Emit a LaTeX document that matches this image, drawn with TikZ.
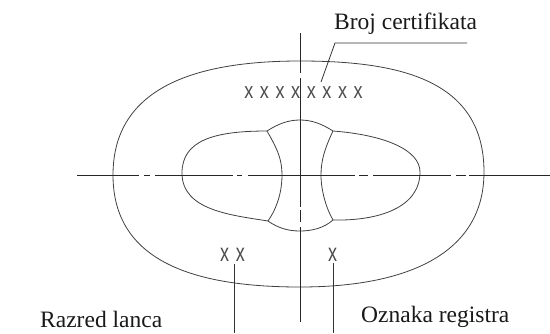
\documentclass[tikz,border=0pt]{standalone}
\usepackage{fontspec}
\setmainfont{Liberation Serif}
\setsansfont{Liberation Sans}
\tikzset{
  contour/.style={draw=black!75,line width=0.8pt,line join=round},
  axis/.style={draw=black!85,line width=0.8pt},
  leader/.style={draw=black!80,line width=0.8pt},
  caption/.style={font=\fontsize{23.5}{26}\selectfont,text=black!90,inner sep=0pt},
  xmark/.style={font=\fontsize{18}{20}\selectfont\sffamily,text=black!70,inner sep=0pt}
}
\begin{document}
\begin{tikzpicture}[x=1pt,y=-1pt]
\useasboundingbox (0,0) rectangle (550,333);
% outer oval
\draw[contour] (300,61) .. controls (400,61) and (484,80) .. (484,172)
  .. controls (484,255) and (405,287) .. (300,287)
  .. controls (195,287) and (113,262) .. (113,175)
  .. controls (113,85) and (200,61) .. (300,61) -- cycle;
% inner lobes
\coordinate (lt) at (267,131); \coordinate (rt) at (333,131);
\coordinate (lb) at (268,221); \coordinate (rb) at (333,220);
\draw[contour] (lt) .. controls (215,131) and (182,140) .. (182,173) .. controls (182,210) and (230,215) .. (lb);
\draw[contour] (rt) .. controls (385,135) and (420,150) .. (420,172) .. controls (420,208) and (378,221) .. (rb);
\draw[contour] (lt) .. controls (278,150) and (282,160) .. (282,175) .. controls (282,192) and (277,208) .. (lb);
\draw[contour] (rt) .. controls (325,148) and (321,160) .. (321,175) .. controls (321,190) and (326,208) .. (rb);
\draw[contour] (lt) .. controls (278,124) and (288,120) .. (300,120) .. controls (312,120) and (322,124) .. (rt);
\draw[contour] (lb) .. controls (278,228) and (288,231) .. (300,231) .. controls (312,231) and (324,228) .. (rb);
% axes
\coordinate (vt) at (300,33); \coordinate (vb) at (300,322);
\coordinate (hl) at (77,175); \coordinate (hr) at (550,175);
\draw[axis] (vt) -- (300,73) (300,78) -- (300,207) (300,210) -- (300,222) (300,227) -- (vb);
\draw[axis] (hl) -- (139,175) (144,175) -- (150,175) (155,175) -- (233,175) (237,175) -- (242,175) (248,175) -- (355,175) (359,175) -- (368,175) (373,175) -- (451,175) (456,175) -- (466,175) (469,175) -- (hr);
% marks
\node[xmark] (mk) at (303.5,93) {\scalebox{1}[1.25]{x\hspace{6.6pt}x\hspace{6.6pt}x\hspace{6.6pt}x\hspace{6.6pt}x\hspace{6.6pt}x\hspace{6.6pt}x\hspace{6.6pt}x}};
\node[xmark] (mxx) at (232.5,255) {\scalebox{1}[1.4]{x\hspace{7pt}x}};
\node[xmark] (mx) at (332.5,255) {\scalebox{1}[1.4]{x}};
% captions
\node[caption,anchor=base west] (broj) at (334,29) {Broj certifikata};
\node[caption,anchor=base west] (raz) at (40,327) {Razred lanca};
\node[caption,anchor=base west] (ozn) at (361,322) {Oznaka registra};
% leaders
\coordinate (b1) at (467,43); \coordinate (b2) at (335,43); \coordinate (b3) at (321,82);
\draw[leader] (b1) -- (b2) -- (b3);
\coordinate (a1) at (234,264); \coordinate (a2) at (234,333);
\coordinate (c1) at (333,263); \coordinate (c2) at (333,333);
\draw[leader] (a1) -- (a2);
\draw[leader] (c1) -- (c2);
\end{tikzpicture}
\end{document}
